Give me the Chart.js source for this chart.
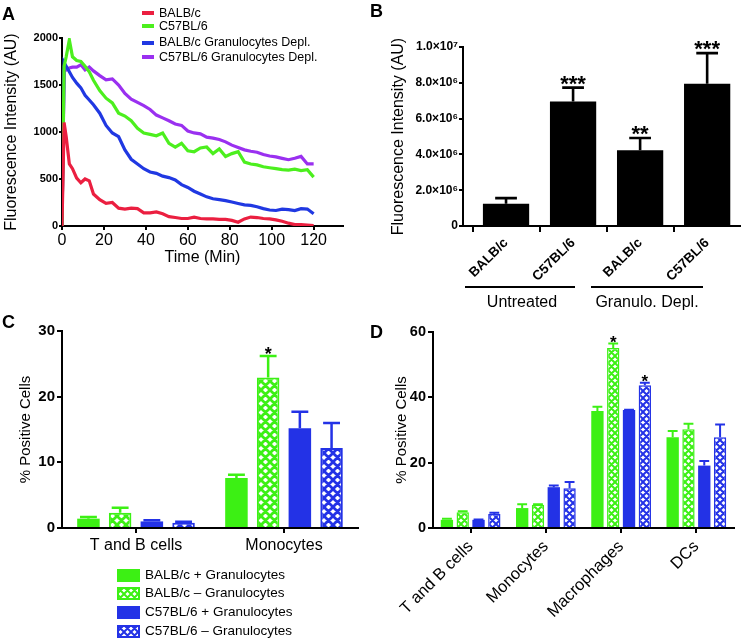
<!DOCTYPE html>
<html><head><meta charset="utf-8">
<script src="https://cdn.jsdelivr.net/npm/chart.js@4.4.0/dist/chart.umd.min.js"></script>
<style>
html,body{margin:0;padding:0;background:#fff;}
body{width:745px;height:640px;position:relative;overflow:hidden;font-family:'Liberation Sans',Arial,sans-serif;color:#000;}
canvas{position:absolute;}
.abs{position:absolute;white-space:nowrap;}
.letter{font-weight:bold;font-size:18px;line-height:1;}
.legA{font-size:12.5px;line-height:14px;}
.sw{position:absolute;height:4px;width:12px;}
.grp{font-size:16px;line-height:18px;text-align:center;width:140px;}
.hl{position:absolute;height:2px;background:#000;}
.legC{font-size:13.5px;line-height:16px;}
</style></head><body>
<canvas id="cA" width="370" height="290" style="left:0;top:0"></canvas>
<canvas id="cB" width="375" height="320" style="left:370px;top:0"></canvas>
<canvas id="cC" width="370" height="270" style="left:0;top:300px"></canvas>
<canvas id="cD" width="375" height="340" style="left:370px;top:300px"></canvas>
<div id="overlay"></div>
<script>
// ---------- Panel A data ----------
const timeMin = [0,1,2,3.5,5,7,9,11,13,15,18,21,24,27,30,33,36,39,42,45,48,51,54,57,60,63,66,69,72,75,78,81,84,87,90,93,96,99,102,105,108,111,114,117,120];
const balbcA = [0,1100,950,660,610,510,460,500,480,340,280,240,250,190,180,190,185,140,140,150,130,100,90,80,80,95,80,75,75,70,70,60,40,75,95,90,80,75,65,50,30,15,15,10,5];
const c57A = [0,1700,1800,1980,1800,1760,1750,1700,1640,1550,1440,1360,1310,1200,1170,1120,1040,990,975,960,990,880,840,880,800,790,830,840,770,820,740,770,790,680,660,650,630,620,610,600,595,605,590,600,520];
const balbcDeplA = [0,1740,1700,1640,1580,1520,1470,1390,1340,1290,1200,1070,990,950,810,710,660,610,575,560,530,515,490,440,410,370,340,310,290,280,270,255,240,225,220,205,185,170,165,180,175,165,185,180,130];
const c57DeplA = [0,1650,1660,1680,1690,1690,1715,1660,1690,1650,1600,1555,1565,1500,1410,1350,1315,1280,1240,1180,1150,1120,1085,1070,1010,990,980,945,935,920,895,860,835,810,795,785,760,745,735,720,705,720,740,660,660];
const seriesNamesA = ['BALB/c','C57BL/6','BALB/c Granulocytes Depl.','C57BL/6 Granulocytes Depl.'];
const timeTicks = [0,20,40,60,80,100,120];
const intensityTicks = [0,500,1000,1500,2000];

// ---------- Panel B data ----------
const strainsB = ['BALB/c','C57BL/6','BALB/c','C57BL/6'];
const meanB = [1.25e6,6.96e6,4.23e6,7.95e6];
const semB = [0.31e6,0.77e6,0.69e6,1.71e6];
const starsB = ['','***','**','***'];
const groupsB = ['Untreated','Granulo. Depl.'];
const ticksB = [0,2e6,4e6,6e6,8e6,1e7];

// ---------- Panel C data ----------
const cellsC = ['T and B cells','Monocytes'];
const balbPlusC = [1.42,7.6],  balbPlusSemC = [0.26,0.5];
const balbMinusC = [2.34,22.9], balbMinusSemC = [0.76,3.3];
const c57PlusC = [1.0,15.2],   c57PlusSemC = [0.17,2.5];
const c57MinusC = [0.8,12.2],  c57MinusSemC = [0.16,3.8];
const starsBalbMinusC = ['','*'];

// ---------- Panel D data ----------
const cellsD = ['T and B cells','Monocytes','Macrophages','DCs'];
const balbPlusD = [2.5,6.1,35.8,27.8],   balbPlusSemD = [0.3,1.2,1.3,1.9];
const balbMinusD = [4.8,7.1,55.1,30.2],  balbMinusSemD = [0.3,0.2,1.4,1.7];
const c57PlusD = [2.5,12.5,36.1,19.1],   c57PlusSemD = [0.1,0.5,0.1,1.4];
const c57MinusD = [4.3,12.2,43.7,27.8],  c57MinusSemD = [0.4,1.9,0.8,3.9];
const starsBalbMinusD = ['','','*',''];
const starsC57MinusD = ['','','*',''];

const legendNamesCD = ['BALB/c + Granulocytes','BALB/c \u2013 Granulocytes','C57BL/6 + Granulocytes','C57BL/6 \u2013 Granulocytes'];

// ---------- styles ----------
const RED='#eb1f40', GREEN_A='#4cef1e', BLUE_A='#2038e2', PURPLE='#9a30f0';
const GREEN='#3cf014', BLUE='#2332e6';
const FONT="'Liberation Sans', Arial, sans-serif";
Chart.defaults.font.family = FONT;
Chart.defaults.color = '#000';

function hatch(ctx, color, s, lw){
  const c=document.createElement('canvas'); c.width=s; c.height=s;
  const g=c.getContext('2d'); g.fillStyle='#fff'; g.fillRect(0,0,s,s);
  g.strokeStyle=color; g.lineWidth=lw; g.beginPath();
  for(const dx of [-s,0,s]){ g.moveTo(dx,0); g.lineTo(dx+s,s); g.moveTo(dx+s,0); g.lineTo(dx,s); }
  g.stroke();
  return ctx.createPattern(c,'repeat');
}

const errPlugin = {
  id:'errbars',
  afterDatasetsDraw(chart){
    const ctx=chart.ctx, ys=chart.scales.y;
    chart.data.datasets.forEach((ds,i)=>{
      if(!ds.sem) return;
      const meta=chart.getDatasetMeta(i);
      meta.data.forEach((bar,j)=>{
        const raw=ds.data[j]; const v=(typeof raw==='object')?raw.y:raw;
        const top=ys.getPixelForValue(v+ds.sem[j]);
        const x=bar.x, w=bar.width*ds.capRatio;
        ctx.save(); ctx.strokeStyle=ds.errColor; ctx.lineWidth=ds.errWidth;
        ctx.beginPath(); ctx.moveTo(x,bar.y); ctx.lineTo(x,top);
        ctx.moveTo(x-w/2,top); ctx.lineTo(x+w/2,top); ctx.stroke();
        if(ds.stars && ds.stars[j]){
          ctx.fillStyle='#000'; ctx.font='bold '+ds.starSize+'px '+FONT;
          ctx.textAlign='center'; ctx.textBaseline='alphabetic';
          ctx.fillText(ds.stars[j], x, top-ds.starGap+0.56*ds.starSize);
        }
        ctx.restore();
      });
    });
  }
};

function axisStyle(tl){ return {grid:{drawOnChartArea:false,drawTicks:true,tickLength:tl,color:'#000',lineWidth:2}, border:{color:'#000',width:2}}; }
const common = {responsive:false, animation:false, events:[], plugins:{legend:{display:false},tooltip:{enabled:false}}};

// ---------- Chart A ----------
const lineDs = (lbl,arr,col)=>({label:lbl,data:timeMin.map((t,i)=>({x:t,y:arr[i]})),borderColor:col,backgroundColor:col,borderWidth:3.2,pointRadius:0,tension:0,fill:false});
new Chart(document.getElementById('cA'),{
  type:'line',
  data:{datasets:[lineDs(seriesNamesA[0],balbcA,RED),lineDs(seriesNamesA[1],c57A,GREEN_A),lineDs(seriesNamesA[2],balbcDeplA,BLUE_A),lineDs(seriesNamesA[3],c57DeplA,PURPLE)]},
  options:{...common, layout:{padding:{top:38,right:27,left:0,bottom:0}},
    scales:{
      x:{type:'linear',min:0,max:134,...axisStyle(4),
        afterBuildTicks:s=>{s.ticks=timeTicks.map(v=>({value:v}));},
        afterFit:s=>{s.height=64;},
        ticks:{callback:v=>String(v),font:{size:16},color:'#000',padding:1,maxRotation:0,autoSkip:false},
        title:{display:true,text:'Time (Min)',font:{size:16},color:'#000',padding:{top:0,bottom:22.4}}},
      y:{min:0,max:2000,...axisStyle(3),
        afterBuildTicks:s=>{s.ticks=intensityTicks.map(v=>({value:v}));},
        afterFit:s=>{s.width=62;},
        ticks:{callback:v=>String(v),font:{size:11,weight:'bold'},color:'#000',padding:1},
        title:{display:true,text:'Fluorescence Intensity (AU)',font:{size:16},color:'#000',padding:{top:2.4,bottom:0}}}
    }}
});

// ---------- Chart B ----------
const supMap={'0':'\u2070','1':'\u00b9','2':'\u00b2','3':'\u00b3','4':'\u2074','5':'\u2075','6':'\u2076','7':'\u2077','8':'\u2078','9':'\u2079'};
function sci(v){ if(v===0) return '0'; const e=Math.floor(Math.log10(v)+1e-9); const m=v/Math.pow(10,e); return m.toFixed(1)+'\u00d710'+String(e).split('').map(c=>supMap[c]).join(''); }
new Chart(document.getElementById('cB'),{
  type:'bar',
  data:{datasets:[{data:meanB.map((v,i)=>({x:i+1,y:v})),backgroundColor:'#000',borderWidth:0,barPercentage:0.69,categoryPercentage:1,
    sem:semB,errColor:'#000',errWidth:2.6,capRatio:0.47,stars:starsB,starSize:22,starGap:9.4}]},
  options:{...common, layout:{padding:{top:47,right:5,left:0,bottom:0}},
    scales:{
      x:{type:'linear',min:0.358,max:4.49,offset:false,...axisStyle(6),
        afterBuildTicks:s=>{s.ticks=strainsB.map((c,i)=>({value:i+1}));},
        afterFit:s=>{s.height=94;},
        ticks:{callback:(v)=>strainsB[Math.round(v)-1]||'',font:{size:13.5,weight:'bold'},color:'#000',minRotation:45,maxRotation:45,padding:3,autoSkip:false}},
      y:{min:0,max:1e7,...axisStyle(4),
        afterBuildTicks:s=>{s.ticks=ticksB.map(v=>({value:v}));},
        afterFit:s=>{s.width=93;},
        ticks:{callback:v=>sci(v),font:{size:12,weight:'bold'},color:'#000',padding:1},
        title:{display:true,text:'Fluorescence Intensity (AU)',font:{size:16},color:'#000',padding:{top:19.4,bottom:0}}}
    }},
  plugins:[errPlugin]
});

// ---------- Chart C ----------
const ctxC=document.getElementById('cC').getContext('2d');
const barDs=(lbl,vals,sem,col,hatched,pat,bw,ew,cap,stars,ss,sg)=>({label:lbl,data:vals,backgroundColor:hatched?pat:col,borderColor:col,borderWidth:hatched?bw:0,
  sem:sem,errColor:col,errWidth:ew,capRatio:cap,stars:stars,starSize:ss,starGap:sg});
new Chart(ctxC,{
  type:'bar',
  data:{labels:cellsC,datasets:[
    barDs(legendNamesCD[0],balbPlusC,balbPlusSemC,GREEN,false,null,0,2.5,0.75),
    barDs(legendNamesCD[1],balbMinusC,balbMinusSemC,GREEN,true,hatch(ctxC,GREEN,9,2.8),2,2.5,0.75,starsBalbMinusC,18,6.4),
    barDs(legendNamesCD[2],c57PlusC,c57PlusSemC,BLUE,false,null,0,2.5,0.75),
    barDs(legendNamesCD[3],c57MinusC,c57MinusSemC,BLUE,true,hatch(ctxC,BLUE,9,2.8),2,2.5,0.75)
  ]},
  options:{...common, datasets:{bar:{barPercentage:0.71,categoryPercentage:0.857}},
    layout:{padding:{top:31,right:12,left:0,bottom:0}},
    scales:{
      x:{...axisStyle(5),grid:{offset:false,drawOnChartArea:false,tickLength:5,color:'#000',lineWidth:2},
        afterFit:s=>{s.height=42;},
        ticks:{font:{size:16},color:'#000',padding:3,maxRotation:0}},
      y:{min:0,max:30,...axisStyle(5),
        afterBuildTicks:s=>{s.ticks=[0,10,20,30].map(v=>({value:v}));},
        afterFit:s=>{s.width=62;},
        ticks:{font:{size:15,weight:'bold'},color:'#000',padding:2},
        title:{display:true,text:'% Positive Cells',font:{size:15},color:'#000',padding:{top:17,bottom:0}}}
    }},
  plugins:[errPlugin]
});

// ---------- Chart D ----------
const ctxD=document.getElementById('cD').getContext('2d');
new Chart(ctxD,{
  type:'bar',
  data:{labels:cellsD,datasets:[
    barDs(legendNamesCD[0],balbPlusD,balbPlusSemD,GREEN,false,null,0,2,0.8),
    barDs(legendNamesCD[1],balbMinusD,balbMinusSemD,GREEN,true,hatch(ctxD,GREEN,7,2),1.5,2,0.8,starsBalbMinusD,17,5.4),
    barDs(legendNamesCD[2],c57PlusD,c57PlusSemD,BLUE,false,null,0,2,0.8),
    barDs(legendNamesCD[3],c57MinusD,c57MinusSemD,BLUE,true,hatch(ctxD,BLUE,7,2),1.5,2,0.8,starsC57MinusD,17,5.2)
  ]},
  options:{...common, datasets:{bar:{barPercentage:0.78,categoryPercentage:0.84}},
    layout:{padding:{top:32,right:11,left:0,bottom:0}},
    scales:{
      x:{...axisStyle(5),grid:{offset:false,drawOnChartArea:false,tickLength:5,color:'#000',lineWidth:2},
        afterFit:s=>{s.height=112;},
        ticks:{font:{size:16.5},color:'#000',padding:4,minRotation:45,maxRotation:45,autoSkip:false}},
      y:{min:0,max:60,...axisStyle(5),
        afterBuildTicks:s=>{s.ticks=[0,20,40,60].map(v=>({value:v}));},
        afterFit:s=>{s.width=63;},
        ticks:{font:{size:14.5,weight:'bold'},color:'#000',padding:2},
        title:{display:true,text:'% Positive Cells',font:{size:15},color:'#000',padding:{top:23,bottom:0}}}
    }},
  plugins:[errPlugin]
});

// ---------- overlays: letters, legends, group labels ----------
const ov=document.getElementById('overlay');
function el(tag,cls,css,text){const e=document.createElement(tag); if(cls)e.className=cls; Object.assign(e.style,css); if(text!=null)e.textContent=text; ov.appendChild(e); return e;}
[['A',2,4.7],['B',370,1.5],['C',2,313],['D',370,323]].forEach(([t,x,y])=>el('div','abs letter',{left:x+'px',top:y+'px'},t));
// legend A
const legAY=[13,26,42.5,57], legACols=[RED,GREEN_A,BLUE_A,PURPLE];
seriesNamesA.forEach((n,i)=>{
  el('div','sw',{left:'142px',top:(legAY[i]-2)+'px',background:legACols[i]});
  el('div','abs legA',{left:'159px',top:(legAY[i]-7.5)+'px'},n);
});
// group lines B
const grpX=[[465,110,522],[591,112,647]];
groupsB.forEach((g,i)=>{
  el('div','hl',{left:grpX[i][0]+'px',width:grpX[i][1]+'px',top:'286px'});
  el('div','abs grp',{left:(grpX[i][2]-70)+'px',top:'293px'},g);
});
// legend C
const legCY=[575,593.3,612.3,631], legCCols=[GREEN,GREEN,BLUE,BLUE], legCHatch=[false,true,false,true];
legendNamesCD.forEach((n,i)=>{
  const c=document.createElement('canvas'); c.width=23; c.height=13;
  Object.assign(c.style,{left:'117px',top:(legCY[i]-6.5)+'px'}); ov.appendChild(c);
  const g=c.getContext('2d');
  if(legCHatch[i]){ g.fillStyle=hatch(g,legCCols[i],7,2); g.fillRect(0,0,23,13); g.strokeStyle=legCCols[i]; g.lineWidth=2; g.strokeRect(1,1,21,11); }
  else { g.fillStyle=legCCols[i]; g.fillRect(0,0,23,13); }
  el('div','abs legC',{left:'145px',top:(legCY[i]-8)+'px'},n);
});
</script>
</body></html>
